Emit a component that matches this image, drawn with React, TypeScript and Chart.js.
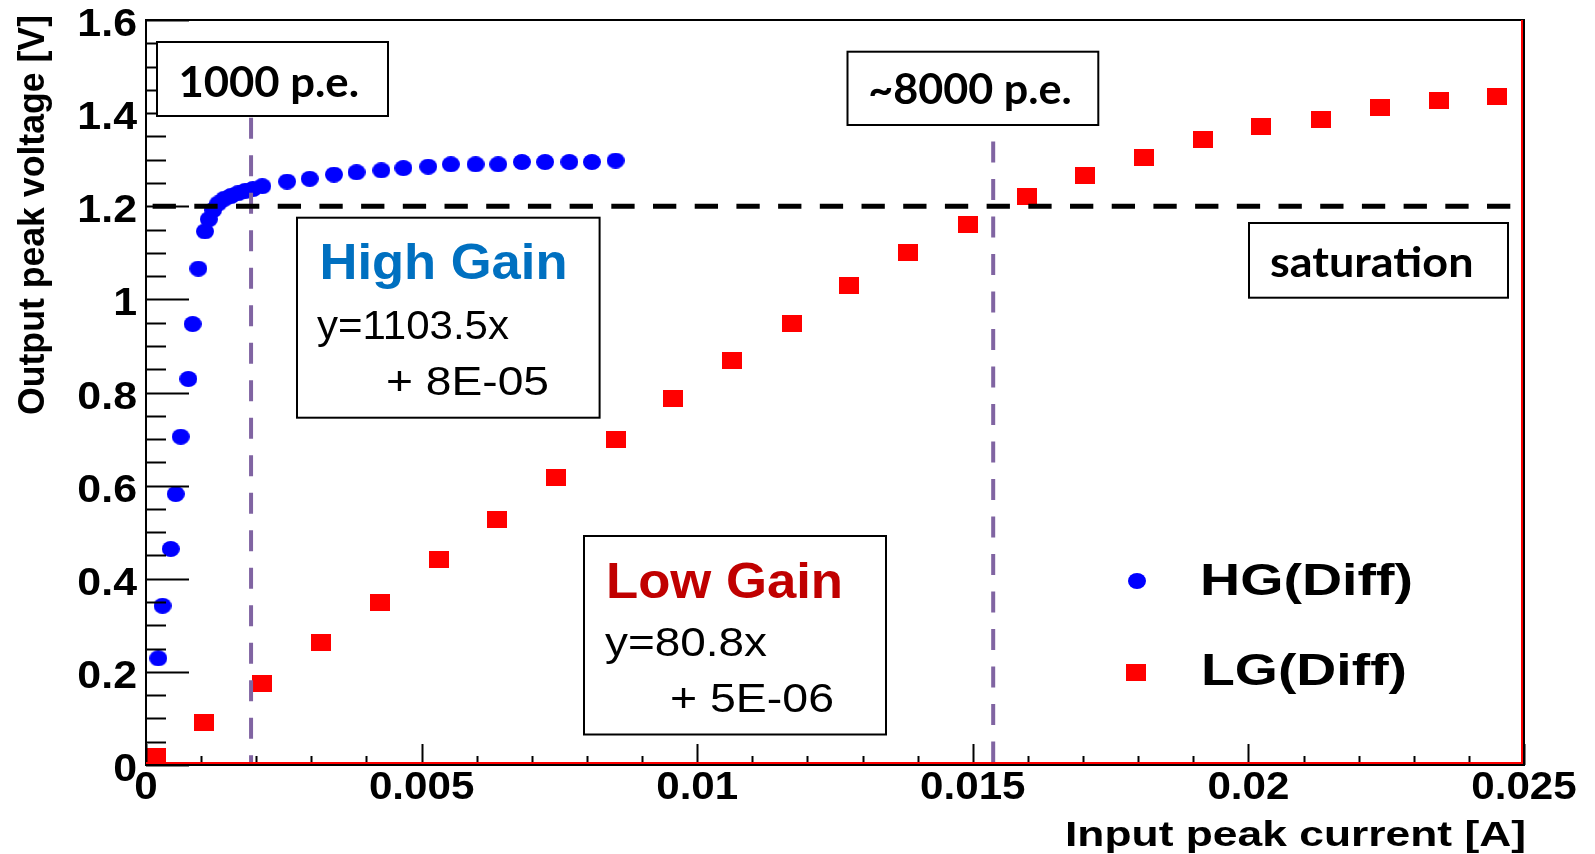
import React, { useEffect, useRef } from "react";
import { Chart, registerables } from "chart.js";

Chart.register(...registerables);

// ---------- data ----------
// High gain (blue circles): input peak current [A] / output peak voltage [V]
const hgCurrent = [
  0.000223, 0.0003, 0.000448, 0.000539, 0.00063, 0.000768, 0.000847, 0.00095,
  0.00107, 0.00114, 0.00122, 0.00131, 0.00142, 0.00154, 0.00167, 0.0018,
  0.00194, 0.00211, 0.00256, 0.00297, 0.00341, 0.00382, 0.00427, 0.00467,
  0.00512, 0.00553, 0.00598, 0.00639, 0.00682, 0.00724, 0.00768, 0.00809,
  0.00852,
];
const hgVoltage = [
  0.229, 0.342, 0.464, 0.582, 0.705, 0.829, 0.947, 1.066, 1.146, 1.172, 1.192,
  1.206, 1.216, 1.222, 1.228, 1.233, 1.237, 1.243, 1.253, 1.259, 1.268, 1.273,
  1.277, 1.282, 1.285, 1.29, 1.29, 1.29, 1.295, 1.295, 1.295, 1.295, 1.298,
];
// Low gain (red squares)
const lgCurrent = [
  0.00019, 0.00106, 0.0021, 0.00318, 0.00424, 0.00532, 0.00636, 0.00743,
  0.00852, 0.00956, 0.01064, 0.01172, 0.01275, 0.01383, 0.01492, 0.01598,
  0.01703, 0.0181, 0.01917, 0.02022, 0.02131, 0.02238, 0.02345, 0.02451,
];
const lgVoltage = [
  0.019, 0.091, 0.176, 0.264, 0.348, 0.441, 0.527, 0.617, 0.7, 0.788, 0.869,
  0.949, 1.029, 1.1, 1.16, 1.222, 1.267, 1.305, 1.344, 1.372, 1.386, 1.412,
  1.427, 1.436,
];
// reference lines
const saturationX = [0.00012, 0.0248];
const saturationY = [1.2, 1.2];
const pe1000X = [0.001906, 0.001906];
const pe1000Y = [1.39, 0.0];
const pe8000X = [0.01537, 0.01537];
const pe8000Y = [1.339, 0.0];

// axes
const xMin = 0;
const xMax = 0.025;
const yMin = 0;
const yMax = 1.6;
const xTickValues = [0, 0.005, 0.01, 0.015, 0.02, 0.025];
const xTickLabels = ["0", "0.005", "0.01", "0.015", "0.02", "0.025"];
const yTickValues = [0, 0.2, 0.4, 0.6, 0.8, 1.0, 1.2, 1.4, 1.6];
const yTickLabels = ["0", "0.2", "0.4", "0.6", "0.8", "1", "1.2", "1.4", "1.6"];
const xMinorStep = 0.001;
const yMinorStep = 0.05;

const xTitle = "Input peak current [A]";
const yTitle = "Output peak voltage [V]";
const legendLabels = ["HG(Diff)", "LG(Diff)"];

const ARIAL = '"Liberation Sans", Arial, sans-serif';
const CALIBRI = 'Lato, "Open Sans", sans-serif';

const BLUE = "#0000ff";
const RED = "#ff0000";
const PURPLE = "#8064a2";

function toPoints(xs: number[], ys: number[]) {
  return xs.map((x, i) => ({ x, y: ys[i] }));
}

function makeEllipse(w: number, h: number, color: string) {
  const c = document.createElement("canvas");
  c.width = w;
  c.height = h;
  const g = c.getContext("2d")!;
  g.fillStyle = color;
  g.beginPath();
  g.ellipse(w / 2, h / 2, w / 2, h / 2, 0, 0, Math.PI * 2);
  g.fill();
  return c;
}

function makeRect(w: number, h: number, color: string) {
  const c = document.createElement("canvas");
  c.width = w;
  c.height = h;
  const g = c.getContext("2d")!;
  g.fillStyle = color;
  g.fillRect(0, 0, w, h);
  return c;
}

type TextOpts = {
  align?: CanvasTextAlign;
  sx?: number;
  width?: number;
  rotate?: number;
};

function drawText(
  ctx: CanvasRenderingContext2D,
  text: string,
  x: number,
  y: number,
  font: string,
  color: string,
  opts: TextOpts = {}
) {
  ctx.save();
  ctx.font = font;
  ctx.fillStyle = color;
  ctx.textBaseline = "alphabetic";
  ctx.textAlign = opts.align || "left";
  let sx = opts.sx ?? 1;
  if (opts.width) sx = opts.width / ctx.measureText(text).width;
  ctx.translate(x, y);
  if (opts.rotate) ctx.rotate(opts.rotate);
  ctx.scale(sx, 1);
  ctx.fillText(text, 0, 0);
  ctx.restore();
}

function box(ctx: CanvasRenderingContext2D, x0: number, y0: number, x1: number, y1: number) {
  ctx.save();
  ctx.fillStyle = "#ffffff";
  ctx.fillRect(x0, y0, x1 - x0, y1 - y0);
  ctx.strokeStyle = "#000000";
  ctx.lineWidth = 2;
  ctx.strokeRect(x0, y0, x1 - x0, y1 - y0);
  ctx.restore();
}

export default function App() {
  const ref = useRef<HTMLCanvasElement | null>(null);

  useEffect(() => {
    const canvas = ref.current;
    if (!canvas) return;
    const hgMarker = makeEllipse(18, 16, BLUE);
    const lgMarker = makeRect(20, 17, RED);

    const overlay = {
      id: "rootStyle",
      afterDatasetsDraw(chart: any) {
        const { ctx, chartArea: a, scales } = chart;
        const xs = scales.x;
        const ys = scales.y;
        ctx.save();
        ctx.strokeStyle = "#000";
        ctx.lineWidth = 2;
        ctx.lineCap = "butt";
        // y ticks (inside)
        const nY = Math.round((yMax - yMin) / yMinorStep);
        for (let i = 0; i <= nY; i++) {
          const v = yMin + i * yMinorStep;
          const py = Math.round(ys.getPixelForValue(v)) + 0.5;
          const len = i % 4 === 0 ? 43 : 20;
          ctx.beginPath();
          ctx.moveTo(a.left, py);
          ctx.lineTo(a.left + len, py);
          ctx.stroke();
        }
        // x ticks (inside)
        const nX = Math.round((xMax - xMin) / xMinorStep);
        for (let i = 0; i <= nX; i++) {
          const v = xMin + i * xMinorStep;
          const px = Math.round(xs.getPixelForValue(v)) + 0.5;
          const len = i % 5 === 0 ? 21 : 9;
          ctx.beginPath();
          ctx.moveTo(px, a.bottom);
          ctx.lineTo(px, a.bottom - len);
          ctx.stroke();
        }
        // frame
        ctx.strokeStyle = "#000";
        ctx.lineWidth = 2;
        ctx.strokeRect(a.left, a.top, a.right - a.left, a.bottom - a.top);
        ctx.strokeStyle = RED;
        ctx.beginPath();
        ctx.moveTo(a.left, a.bottom - 2);
        ctx.lineTo(a.right - 2, a.bottom - 2);
        ctx.lineTo(a.right - 2, a.top);
        ctx.stroke();
        ctx.restore();

        // tick labels
        const tickFont = `bold 39px ${ARIAL}`;
        yTickValues.forEach((v, i) => {
          const py = ys.getPixelForValue(v);
          drawText(ctx, yTickLabels[i], 137, py + 16, tickFont, "#000", { align: "right", sx: 1.1 });
        });
        xTickValues.forEach((v, i) => {
          const px = xs.getPixelForValue(v);
          drawText(ctx, xTickLabels[i], px, 799, tickFont, "#000", { align: "center", sx: 1.08 });
        });
        // axis titles
        drawText(ctx, xTitle, 1526, 846, `bold 35px ${ARIAL}`, "#000", { align: "right", width: 461 });
        drawText(ctx, yTitle, 44, 15, `bold 36px ${ARIAL}`, "#000", { align: "right", rotate: -Math.PI / 2, width: 400 });

        // annotation boxes
        box(ctx, 157, 42, 388, 116);
        drawText(ctx, "1000 p.e.", 178.4, 96.7, `bold 42px ${CALIBRI}`, "#000", { width: 180.6 });

        box(ctx, 847.5, 51.7, 1098.3, 125);
        drawText(ctx, "~8000 p.e.", 868.3, 104, `bold 42px ${CALIBRI}`, "#000", { width: 203.4 });

        box(ctx, 1249, 223, 1508, 297.7);
        drawText(ctx, "saturation", 1270, 276.7, `bold 42px ${CALIBRI}`, "#000", { width: 203.5 });

        box(ctx, 297, 217.7, 599.6, 417.7);
        drawText(ctx, "High Gain", 319.5, 279, `bold 50px ${ARIAL}`, "#0070c0", { width: 248 });
        drawText(ctx, "y=1103.5x", 317, 339, `40px ${ARIAL}`, "#000", { width: 192 });
        drawText(ctx, "+ 8E-05", 386, 395, `40px ${ARIAL}`, "#000", { width: 163 });

        box(ctx, 584, 536, 886, 734.5);
        drawText(ctx, "Low Gain", 606, 598, `bold 50px ${ARIAL}`, "#c00000", { width: 237 });
        drawText(ctx, "y=80.8x", 605, 656, `40px ${ARIAL}`, "#000", { width: 162 });
        drawText(ctx, "+ 5E-06", 670, 712, `40px ${ARIAL}`, "#000", { width: 164 });

        // legend
        ctx.drawImage(hgMarker, 1137 - hgMarker.width / 2, 581 - hgMarker.height / 2);
        ctx.drawImage(lgMarker, 1136 - lgMarker.width / 2, 672 - lgMarker.height / 2);
        drawText(ctx, legendLabels[0], 1200, 595, `bold 45px ${ARIAL}`, "#000", { width: 213 });
        drawText(ctx, legendLabels[1], 1201, 685, `bold 45px ${ARIAL}`, "#000", { width: 206 });
      },
    };

    const chart = new Chart(canvas, {
      type: "scatter",
      data: {
        datasets: [
          {
            label: "saturation",
            data: toPoints(saturationX, saturationY),
            showLine: true,
            borderColor: "#000",
            borderWidth: 5,
            borderDash: [23.3, 18.4],
            pointRadius: 0,
            fill: false,
          },
          {
            label: "1000 p.e.",
            data: toPoints(pe1000X, pe1000Y),
            showLine: true,
            borderColor: PURPLE,
            borderWidth: 4,
            borderDash: [21, 16.5],
            pointRadius: 0,
            fill: false,
          },
          {
            label: "8000 p.e.",
            data: toPoints(pe8000X, pe8000Y),
            showLine: true,
            borderColor: PURPLE,
            borderWidth: 4,
            borderDash: [21, 16.5],
            pointRadius: 0,
            fill: false,
          },
          {
            label: legendLabels[0],
            data: toPoints(hgCurrent, hgVoltage),
            pointStyle: hgMarker as any,
            pointRadius: 9,
            backgroundColor: BLUE,
            borderColor: BLUE,
          },
          {
            label: legendLabels[1],
            data: toPoints(lgCurrent, lgVoltage),
            pointStyle: lgMarker as any,
            pointRadius: 10,
            backgroundColor: RED,
            borderColor: RED,
          },
        ],
      },
      options: {
        responsive: false,
        animation: false,
        devicePixelRatio: 1,
        events: [],
        layout: { padding: { left: 146, top: 20, right: 71, bottom: 89 } },
        scales: {
          x: { type: "linear", min: xMin, max: xMax, display: false },
          y: { type: "linear", min: yMin, max: yMax, display: false },
        },
        plugins: {
          legend: { display: false },
          tooltip: { enabled: false },
        },
      },
      plugins: [overlay],
    });

    const fonts = [
      `bold 35px "Liberation Sans"`,
      `35px "Liberation Sans"`,
      `bold 42px Lato`,
    ];
    Promise.all(fonts.map((f) => (document as any).fonts.load(f)))
      .catch(() => null)
      .then(() => {
        try {
          chart.draw();
        } catch (e) {
          /* ignore */
        }
      });

    return () => {
      chart.destroy();
    };
  }, []);

  return (
    <div style={{ position: "absolute", left: 0, top: 0, width: 1595, height: 854, background: "#fff" }}>
      <canvas ref={ref} width={1595} height={854} style={{ display: "block", width: 1595, height: 854 }} />
    </div>
  );
}
